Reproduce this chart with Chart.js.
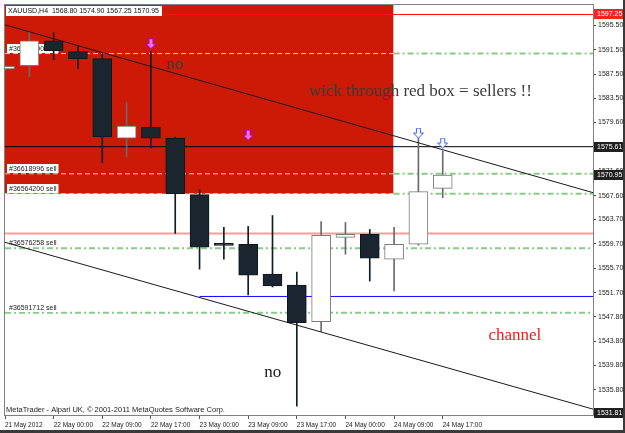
<!DOCTYPE html>
<html>
<head>
<meta charset="utf-8">
<script src="https://cdn.jsdelivr.net/npm/chart.js@4.4.0/dist/chart.umd.min.js"></script>
<style>
  html, body { margin: 0; padding: 0; background: #fff; }
  #wrap { width: 625px; height: 433px; }
</style>
</head>
<body>
<div id="wrap"><canvas id="myChart" width="625" height="433"></canvas></div>
<script>
// XAUUSD H4 bars, oldest first
const timeLabels = ['21 May 2012', '22 May 00:00', '22 May 09:00', '22 May 17:00', '23 May 00:00',
                    '23 May 09:00', '23 May 17:00', '24 May 00:00', '24 May 09:00', '24 May 17:00'];
const opens  = [1588.35, 1588.89, 1592.95, 1591.16, 1590.02, 1577.02, 1578.81, 1577.02, 1567.76, 1559.80,
                1559.64, 1554.76, 1552.97, 1546.96, 1560.77, 1561.26, 1557.20, 1559.64, 1568.80];
const highs  = [1588.80, 1594.41, 1594.25, 1592.14, 1590.84, 1582.87, 1591.16, 1577.20, 1568.57, 1562.40,
                1562.56, 1564.35, 1555.09, 1563.37, 1563.21, 1562.07, 1562.40, 1577.67, 1574.90];
const lows   = [1588.10, 1587.10, 1589.86, 1588.40, 1572.96, 1573.94, 1575.40, 1561.42, 1555.57, 1557.20,
                1551.35, 1552.65, 1533.15, 1545.34, 1558.01, 1553.62, 1552.00, 1559.50, 1567.25];
const closes = [1588.75, 1592.95, 1591.32, 1590.02, 1577.19, 1578.97, 1577.02, 1567.92, 1559.15, 1559.47,
                1554.60, 1552.81, 1546.80, 1561.10, 1561.26, 1557.36, 1559.64, 1568.25, 1570.95];

const priceTicks = [1595.50, 1591.50, 1587.50, 1583.50, 1579.60, 1571.60, 1567.60, 1563.70,
                    1559.70, 1555.70, 1551.70, 1547.80, 1543.80, 1539.80, 1535.80];

const sellLevels  = [1590.85, 1571.17, 1567.92, 1559.00, 1548.42];
const sellTickets = ['#36603190 sell', '#36618996 sell', '#36564200 sell', '#36576258 sell', '#36591712 sell'];

const askLine = 1597.25;
const bidLine = 1575.61;
const pinkLine = 1561.42;
const blueLine = 1551.10;
const blueFrom = 8;
const lastClose = 1570.95;
const lowestShown = 1531.81;

const boxBottom = 1567.92;
const boxEnd = 15.98;

const upperTrend = [1595.55, 1568.09];
const lowerTrend = [1559.96, 1532.66];

const sellArrows = [{ x: 6, y: 1592.46 }, { x: 10, y: 1577.51 }];
const touchArrows = [{ x: 17, y: 1577.84 }, { x: 18, y: 1576.21 }];

const notes = [
  { text: 'no', x: 6.64, y: 1588.4, color: '#3a3a3a' },
  { text: 'wick through red box = sellers !!', x: 12.5, y: 1583.85, color: '#3a3a3a' },
  { text: 'no', x: 10.66, y: 1538.0, color: '#222' },
  { text: 'channel', x: 19.88, y: 1544.0, color: '#ee1c1c' }
];

const xMax = 24.18;
const smallFont = '"Liberation Sans", Arial, sans-serif';
const red = '#cc1a06';
const dark = '#1b2530';
const green = '#86cc86';

const idx = opens.map((_, i) => i);
const up = idx.map(i => closes[i] >= opens[i]);

function makeArrow(stroke, fill) {
  const c = document.createElement('canvas');
  c.width = 11; c.height = 11;
  const g = c.getContext('2d');
  g.beginPath();
  g.moveTo(3.5, 0.5); g.lineTo(7.5, 0.5); g.lineTo(7.5, 5.5); g.lineTo(10.5, 5.5);
  g.lineTo(5.5, 10.5); g.lineTo(0.5, 5.5); g.lineTo(3.5, 5.5); g.closePath();
  g.fillStyle = fill; g.fill();
  g.strokeStyle = stroke; g.lineWidth = 1; g.stroke();
  return c;
}

function hLine(level, from, to, color, width, dash, order) {
  return {
    type: 'line', label: 'level', data: [{ x: from, y: level }, { x: to, y: level }],
    borderColor: color, borderWidth: width, borderDash: dash || [], pointRadius: 0, fill: false, order: order
  };
}

const datasets = [];

// red box
datasets.push({
  type: 'line', label: 'box', data: [{ x: 0, y: 1600 }, { x: boxEnd, y: 1600 }],
  fill: { value: boxBottom }, backgroundColor: red, borderWidth: 0, pointRadius: 0, order: 20
});

datasets.push(hLine(askLine, 0, xMax, '#ff1010', 1, [], 9));
datasets.push(hLine(bidLine, 0, xMax, '#000', 1, [], 9));
datasets.push(hLine(pinkLine, 0, xMax, '#ff9a9a', 2, [], 9));
datasets.push(hLine(blueLine, blueFrom, xMax, '#0a0aff', 1, [], 9));
sellLevels.forEach(lv => {
  if (lv >= boxBottom) {
    datasets.push(hLine(lv, 0, boxEnd, '#f4c4b8', 1, [5, 3], 8));
    datasets.push(hLine(lv, boxEnd, xMax, green, 2, [6, 3, 2, 3], 8));
  } else {
    datasets.push(hLine(lv, 0, xMax, green, 2, [6, 3, 2, 3], 8));
  }
});

datasets.push({
  type: 'bar', label: 'wicks', data: idx.map(i => ({ x: i, y: [lows[i], highs[i]] })),
  backgroundColor: idx.map(i => up[i] ? '#6a6a6a' : '#151c24'),
  borderWidth: 0, barThickness: 1, grouped: false, order: 4
});
datasets.push({
  type: 'bar', label: 'bodies', data: idx.map(i => ({ x: i, y: [opens[i], closes[i]] })),
  backgroundColor: idx.map(i => up[i] ? '#ffffff' : dark),
  borderColor: idx.map(i => up[i] ? '#7a7a7a' : '#10161c'),
  borderWidth: 1, borderSkipped: false, barThickness: 19, grouped: false, order: 3
});

datasets.push({
  type: 'line', label: 'trend', data: [{ x: 0, y: upperTrend[0] }, { x: xMax, y: upperTrend[1] }],
  borderColor: '#1a1a1a', borderWidth: 1, pointRadius: 0, fill: false, order: 2
});
datasets.push({
  type: 'line', label: 'trend', data: [{ x: 0, y: lowerTrend[0] }, { x: xMax, y: lowerTrend[1] }],
  borderColor: '#1a1a1a', borderWidth: 1, pointRadius: 0, fill: false, order: 2
});

datasets.push({
  type: 'line', label: 'arrows', data: sellArrows, showLine: false,
  pointStyle: makeArrow('#b000c0', '#f070f0'), order: 1
});
datasets.push({
  type: 'line', label: 'arrows', data: touchArrows, showLine: false,
  pointStyle: makeArrow('#3f5fff', '#ffffff'), order: 1
});

const mtPlugin = {
  id: 'mt',
  beforeDraw(chart) {
    const c = chart.ctx;
    c.save();
    c.fillStyle = '#fff';
    c.fillRect(0, 0, chart.width, chart.height);
    c.fillStyle = '#3a3a3a';
    c.fillRect(0, chart.height - 3, chart.width, 3);
    c.fillRect(chart.width - 2, 0, 2, chart.height);
    c.restore();
  },
  beforeDatasetDraw(chart, args) {
    if (chart.data.datasets[args.index].label !== 'wicks') return;
    const c = chart.ctx, ys = chart.scales.y, a = chart.chartArea;
    c.save();
    c.font = '7px ' + smallFont;
    c.textBaseline = 'bottom';
    sellLevels.forEach((lv, k) => {
      const y = Math.round(ys.getPixelForValue(lv)) - 1;
      const w = c.measureText(sellTickets[k]).width;
      c.fillStyle = '#fff';
      c.fillRect(a.left + 2, y - 9, w + 4, 9);
      c.fillStyle = '#222';
      c.fillText(sellTickets[k], a.left + 4, y);
    });
    c.restore();
  },
  afterDatasetsDraw(chart) {
    const c = chart.ctx, xs = chart.scales.x, ys = chart.scales.y;
    c.save();
    c.font = '17px "Liberation Serif", "DejaVu Serif", serif';
    c.textBaseline = 'alphabetic';
    notes.forEach(n => {
      c.fillStyle = n.color;
      c.fillText(n.text, xs.getPixelForValue(n.x), ys.getPixelForValue(n.y));
    });
    c.restore();
  },
  afterDraw(chart) {
    const c = chart.ctx, ys = chart.scales.y, a = chart.chartArea;
    c.save();
    c.strokeStyle = '#808080';
    c.lineWidth = 1;
    c.strokeRect(a.left - 0.5, a.top - 0.5, a.right - a.left + 1, a.bottom - a.top + 1);

    c.font = '7px ' + smallFont;
    c.textBaseline = 'middle';
    const boxes = [[askLine, '#ff2020'], [bidLine, '#202020'], [lastClose, '#202020'], [lowestShown, '#202020']];
    boxes.forEach(([v, bg]) => {
      let y = Math.round(ys.getPixelForValue(v));
      y = Math.min(y, a.bottom - 2);
      c.fillStyle = bg;
      c.fillRect(a.right + 1, y - 5, 29, 10);
      c.fillStyle = '#fff';
      c.fillText(v.toFixed(2), a.right + 4, y + 0.5);
    });

    const last = opens.length - 1;
    const head = 'XAUUSD,H4  ' + [opens[last], highs[last], lows[last], closes[last]].map(v => v.toFixed(2)).join(' ');
    const hw = c.measureText(head).width;
    c.fillStyle = '#fff';
    c.fillRect(a.left + 1, a.top + 1, hw + 5, 10);
    c.fillStyle = '#111';
    c.fillText(head, a.left + 3, a.top + 6.5);

    c.font = '7.5px ' + smallFont;
    c.fillStyle = '#222';
    c.textBaseline = 'bottom';
    c.fillText('MetaTrader - Alpari UK, \u00a9 2001-2011 MetaQuotes Software Corp.', a.left + 1, a.bottom - 1);
    c.restore();
  }
};

function noPad(s) {
  s.paddingTop = 0; s.paddingBottom = 0; s.paddingLeft = 0; s.paddingRight = 0;
}

const ctx = document.getElementById('myChart').getContext('2d');
const myChart = new Chart(ctx, {
  type: 'bar',
  data: { datasets: datasets },
  plugins: [mtPlugin],
  options: {
    responsive: false,
    animation: false,
    devicePixelRatio: 1,
    layout: { padding: { left: 3, top: 2, right: 0, bottom: 0 } },
    plugins: { legend: { display: false }, tooltip: { enabled: false } },
    scales: {
      x: {
        type: 'linear', min: 0, max: xMax, offset: false,
        grid: { drawOnChartArea: false, offset: false, tickLength: 4, color: '#555' },
        border: { display: false },
        afterBuildTicks: s => { s.ticks = timeLabels.map((_, k) => ({ value: 2 * k })); },
        afterFit: s => { s.height = 18; noPad(s); },
        ticks: {
          autoSkip: false, maxRotation: 0, align: 'start', padding: 2, color: '#222',
          font: { family: smallFont, size: 6.5 },
          callback: v => timeLabels[v / 2]
        }
      },
      y: {
        type: 'linear', position: 'right', min: 1531.7, max: 1598.8, beginAtZero: false,
        grid: { drawOnChartArea: false, tickLength: 3, color: '#444' },
        border: { display: false },
        afterBuildTicks: s => { s.ticks = priceTicks.map(v => ({ value: v })); },
        afterFit: s => { s.width = 32; noPad(s); },
        ticks: {
          autoSkip: false, padding: 2, color: '#222',
          font: { family: smallFont, size: 7 },
          callback: v => Number(v).toFixed(2)
        }
      }
    }
  }
});
</script>
</body>
</html>
